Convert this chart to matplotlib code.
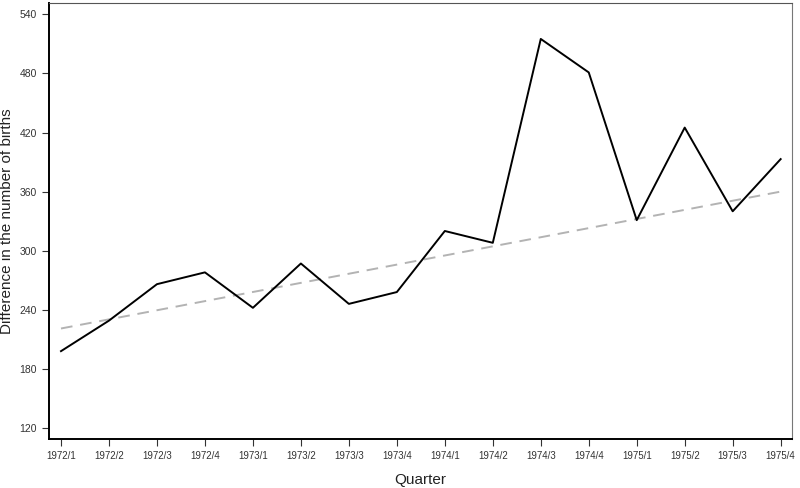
import matplotlib
matplotlib.use("Agg")
import matplotlib.pyplot as plt
import numpy as np

plt.rcParams["font.family"] = ["Liberation Sans", "DejaVu Sans"]

quarters = ["1972/1", "1972/2", "1972/3", "1972/4",
            "1973/1", "1973/2", "1973/3", "1973/4",
            "1974/1", "1974/2", "1974/3", "1974/4",
            "1975/1", "1975/2", "1975/3", "1975/4"]
births_diff = [198, 229, 266, 278, 242, 287, 246, 258,
               320, 308, 515, 481, 331, 425, 340, 393]
# dashed trend line, value at first and last quarter
trend_ends = [221, 360]
y_ticks = [120, 180, 240, 300, 360, 420, 480, 540]

fig = plt.figure(figsize=(8, 4.88), dpi=100)
ax = fig.add_axes([49 / 800, 1 - 439 / 488, (791.7 - 49) / 800, (439 - 3) / 488])

x = np.arange(len(quarters))
ax.plot(x, births_diff, color="black", lw=1.4, zorder=3)
ax.plot([x[0], x[-1]], trend_ends, color="#b3b3b3", lw=1.4, ls=(0, (6, 4)), zorder=2)

ax.set_xlim(-0.25, 15.23)
ax.set_ylim(108.8, 551.5)
ax.set_xticks(x)
ax.set_xticklabels(quarters, fontsize=7, color="#333333")
ax.set_yticks(y_ticks)
ax.set_yticklabels([str(v) for v in y_ticks], fontsize=7.5, color="#333333")
ax.tick_params(axis="both", direction="out", length=5, width=0.8, color="#333333")

ax.spines["left"].set_linewidth(1.4)
ax.spines["bottom"].set_linewidth(1.4)
ax.spines["top"].set_color("#555555")
ax.spines["right"].set_color("#777777")
ax.spines["top"].set_linewidth(0.8)
ax.spines["right"].set_linewidth(0.8)

ax.set_ylabel("Difference in the number of births", fontsize=11, color="#222222")
# anchor is the right edge of the rotated label
ax.yaxis.set_label_coords(-0.047, 0.5)
ax.set_xlabel("Quarter", fontsize=11, labelpad=9, color="#222222")

fig.savefig("out.png", dpi=100)
